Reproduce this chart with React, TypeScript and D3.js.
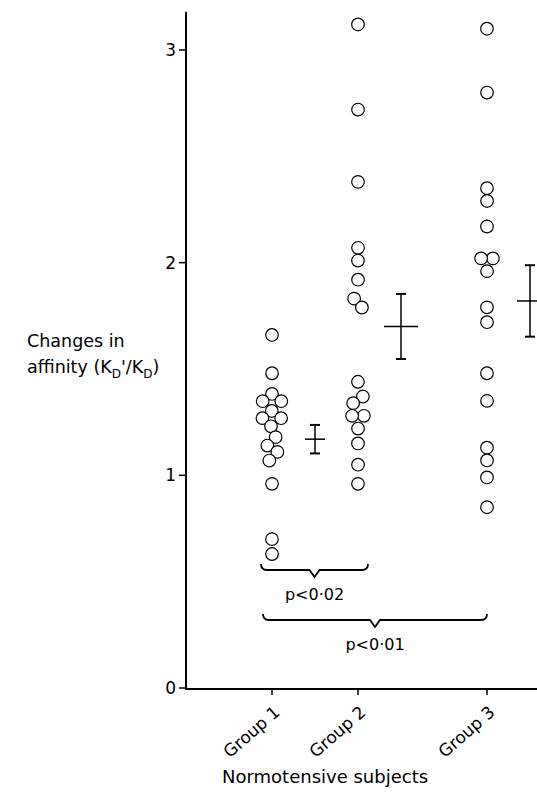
import React from 'react';
import * as d3 from 'd3';

// values
const groups = ['Group 1', 'Group 2', 'Group 3'];

const group1 = [1.66, 1.48, 1.38, 1.35, 1.35, 1.30, 1.27, 1.27, 1.23, 1.18, 1.14, 1.11, 1.07, 0.96, 0.70, 0.63];
const group2 = [3.12, 2.72, 2.38, 2.07, 2.01, 1.92, 1.83, 1.79, 1.44, 1.37, 1.34, 1.28, 1.28, 1.22, 1.15, 1.05, 0.96];
const group3 = [3.10, 2.80, 2.35, 2.29, 2.17, 2.02, 2.02, 1.96, 1.79, 1.72, 1.48, 1.35, 1.13, 1.07, 0.99, 0.85];

const means = [1.17, 1.70, 1.82];
const sems = [0.067, 0.153, 0.168];

const yTicks = [0, 1, 2, 3];

const pFrom = [0, 0];
const pTo = [1, 2];
const pLabels = ['p<0·02', 'p<0·01'];

// layout
const W = 537;
const H = 792;
const FONT = '"DejaVu Sans", sans-serif';
const R = 6.3;
const groupSlot = [0, 2, 5];
const barHalf = [10, 17, 13];
const bracketY = [570, 620];
const bracketEnds = [[-11, 10], [-9, 0]];

const y = d3.scaleLinear().domain([0, 3]).range([688, 50]);
const slot = d3.scaleLinear().domain([0, 1]).range([272, 315]);

type Node = { v: number; x: number; y: number };

function swarm(values: number[], cx: number): Node[] {
  const nodes: Node[] = values.map((v, i) => ({ v, x: cx + (i % 2 ? 0.5 : -0.5), y: y(v) }));
  const sim = d3.forceSimulation(nodes as any)
    .force('x', d3.forceX(cx).strength(0.04))
    .force('y', d3.forceY((d: any) => y(d.v)).strength(1))
    .force('c', d3.forceCollide(5.9).iterations(3))
    .stop();
  for (let i = 0; i < 300; i++) sim.tick();
  return nodes;
}

export default function App() {
  const data = [group1, group2, group3];
  const swarms = data.map((vals, i) => swarm(vals, slot(groupSlot[i])));

  const bracketPath = (x1: number, x2: number, ly: number) => {
    const mid = (x1 + x2) / 2;
    return `M${x1},${ly - 6} Q${x1},${ly} ${x1 + 6},${ly} L${mid - 5},${ly} L${mid},${ly + 7} L${mid + 5},${ly} L${x2 - 6},${ly} Q${x2},${ly} ${x2},${ly - 6}`;
  };

  return (
    <svg width={W} height={H} style={{ position: 'absolute', left: 0, top: 0, display: 'block', background: '#fff' }}
      fontFamily={FONT}>
      {/* axes */}
      <line x1={186} x2={186} y1={y(3.18)} y2={y(0) + 1} stroke="#000" strokeWidth={2} />
      <line x1={185} x2={W} y1={y(0) + 1} y2={y(0) + 1} stroke="#000" strokeWidth={2} />
      {yTicks.map(t => (
        <g key={t}>
          <line x1={179} x2={186} y1={y(t)} y2={y(t)} stroke="#000" strokeWidth={1.5} />
          <text x={176} y={y(t)} dy="0.35em" textAnchor="end" fontSize={17}>{t}</text>
        </g>
      ))}
      {groups.map((g, i) => {
        const gx = slot(groupSlot[i]);
        return (
          <g key={g}>
            <line x1={gx} x2={gx} y1={y(0) + 1} y2={y(0) + 7} stroke="#000" strokeWidth={1.5} />
            <text transform={`translate(${gx + 9},${714}) rotate(-41)`} textAnchor="end" fontSize={17}>{g}</text>
          </g>
        );
      })}

      {/* y label */}
      <text x={27} y={347} fontSize={17.5}>Changes in</text>
      <text x={27} y={373} fontSize={17.5}>
        affinity (K<tspan dy={5} fontSize={12}>D</tspan><tspan dy={-5}>'/K</tspan><tspan dy={5} fontSize={12}>D</tspan><tspan dy={-5}>)</tspan>
      </text>

      {/* x label */}
      <text x={222} y={783} fontSize={18}>Normotensive subjects</text>

      {/* points */}
      {swarms.map((nodes, gi) => (
        <g key={gi}>
          {nodes.map((n, i) => (
            <circle key={i} cx={n.x} cy={n.y} r={R} fill="#fff" stroke="#000" strokeWidth={1.2} />
          ))}
        </g>
      ))}

      {/* mean ± SE */}
      {means.map((m, i) => {
        const bx = slot(groupSlot[i] + 1);
        return (
          <g key={i} stroke="#000">
            <line x1={bx} x2={bx} y1={y(m + sems[i])} y2={y(m - sems[i])} strokeWidth={1.5} />
            <line x1={bx - 5} x2={bx + 5} y1={y(m + sems[i])} y2={y(m + sems[i])} strokeWidth={2} />
            <line x1={bx - 5} x2={bx + 5} y1={y(m - sems[i])} y2={y(m - sems[i])} strokeWidth={2} />
            <line x1={bx - barHalf[i]} x2={bx + barHalf[i]} y1={y(m)} y2={y(m)} strokeWidth={1.5} />
          </g>
        );
      })}

      {/* significance brackets */}
      {pLabels.map((lab, i) => {
        const x1 = slot(groupSlot[pFrom[i]]) + bracketEnds[i][0];
        const x2 = slot(groupSlot[pTo[i]]) + bracketEnds[i][1];
        const ly = bracketY[i];
        return (
          <g key={lab}>
            <path d={bracketPath(x1, x2, ly)} fill="none" stroke="#000" strokeWidth={1.8} />
            <text x={(x1 + x2) / 2} y={ly + 30} textAnchor="middle" fontSize={16}>{lab}</text>
          </g>
        );
      })}
    </svg>
  );
}
